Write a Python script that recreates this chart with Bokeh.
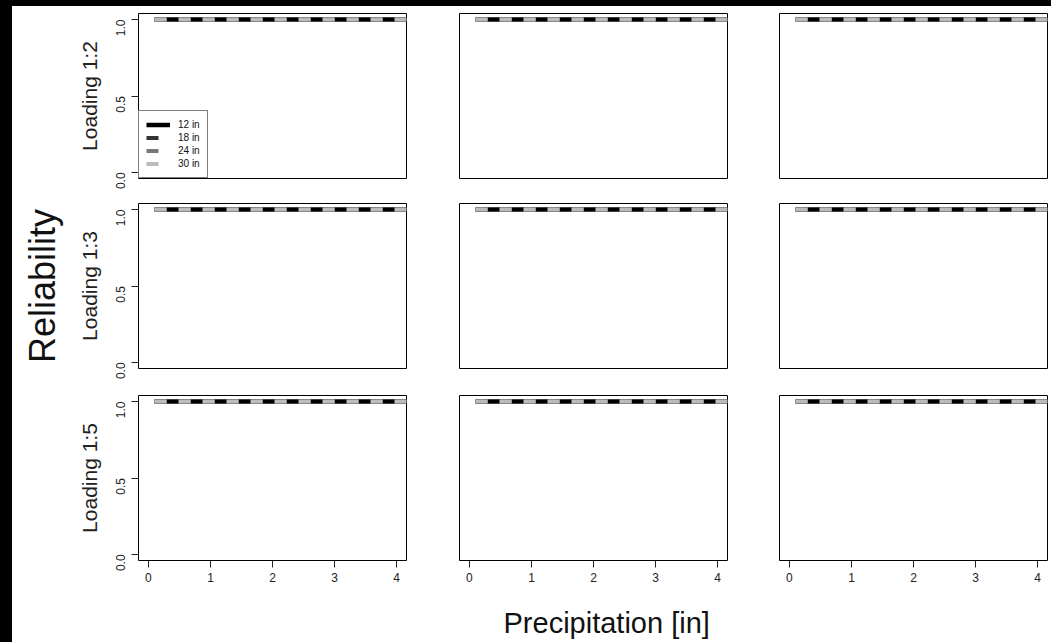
import math
from bokeh.plotting import figure
from bokeh.layouts import row, column
from bokeh.models import Range1d, FixedTicker, NumeralTickFormatter, Title, Spacer
from bokeh.embed import file_html
from bokeh.resources import INLINE

# ---------------- data ----------------
precip = [0.1, 0.5, 1.0, 1.5, 2.0, 2.5, 3.0, 3.5, 4.0, 4.5]
row_labels = ["Loading 1:2", "Loading 1:3", "Loading 1:5"]
depth_labels = ["12 in", "18 in", "24 in", "30 in"]
# every panel: all four depths sit on reliability 1.0
rel_12in = [1.0, 1.0, 1.0, 1.0, 1.0, 1.0, 1.0, 1.0, 1.0, 1.0]
rel_18in = [1.0, 1.0, 1.0, 1.0, 1.0, 1.0, 1.0, 1.0, 1.0, 1.0]
rel_24in = [1.0, 1.0, 1.0, 1.0, 1.0, 1.0, 1.0, 1.0, 1.0, 1.0]
rel_30in = [1.0, 1.0, 1.0, 1.0, 1.0, 1.0, 1.0, 1.0, 1.0, 1.0]
x_ticks = [0, 1, 2, 3, 4]
y_ticks = [0.0, 0.5, 1.0]
x_title = "Precipitation [in]"
y_title = "Reliability"

# ---------------- styles ----------------
series = [rel_12in, rel_18in, rel_24in, rel_30in]
depth_colors = ["#000000", "#333333", "#777777", "#bbbbbb"]
depth_widths = [4.5, 4, 4, 4]
depth_dashes = ["solid", "12 12", "12 12", "12 12"]
FONT = "Liberation Sans"

col_left = [126, 27, 26]
col_right = [26, 26, 4]
row_top = [7, 13, 14]
row_bottom = [12, 13, 82]


def make_panel(r, c):
    p = figure(
        frame_width=268, frame_height=165,
        output_backend="svg", toolbar_location=None,
        x_range=Range1d(-0.16, 4.16), y_range=Range1d(-0.04, 1.04),
        x_axis_location="below" if r == 2 else None,
        y_axis_location="left" if c == 0 else None,
        min_border_left=col_left[c], min_border_right=col_right[c],
        min_border_top=row_top[r], min_border_bottom=row_bottom[r],
    )
    p.grid.visible = False
    p.background_fill_color = "white"
    p.border_fill_color = "white"
    p.outline_line_color = "black"
    p.outline_line_width = 1
    p.outline_line_alpha = 1

    for ys, lab, colr, w, d in zip(series, depth_labels, depth_colors, depth_widths, depth_dashes):
        kw = dict(line_color=colr, line_width=w, line_dash=d, line_cap="butt")
        if r == 0 and c == 0:
            kw["legend_label"] = lab
        p.line(precip, ys, **kw)

    if r == 2:
        ax = p.xaxis[0]
        ax.ticker = FixedTicker(ticks=x_ticks)
        ax.axis_line_color = None
        ax.major_tick_out = 7
        ax.major_tick_in = 0
        ax.major_tick_line_color = "#222222"
        ax.major_label_text_font = FONT
        ax.major_label_text_font_size = "12px"
        ax.major_label_text_color = "#222222"
        ax.major_label_standoff = 5
    if c == 0:
        ay = p.yaxis[0]
        ay.ticker = FixedTicker(ticks=y_ticks)
        ay.formatter = NumeralTickFormatter(format="0.0")
        ay.axis_line_color = None
        ay.major_tick_out = 7
        ay.major_tick_in = 0
        ay.major_tick_line_color = "#222222"
        ay.major_label_text_font = FONT
        ay.major_label_text_font_size = "12px"
        ay.major_label_text_color = "#222222"
        ay.major_label_orientation = math.pi / 2
        ay.major_label_standoff = 11
        ay.axis_label = row_labels[r]
        ay.axis_label_text_font = FONT
        ay.axis_label_text_font_size = "21px"
        ay.axis_label_text_font_style = "normal"
        ay.axis_label_text_color = "#222222"
        ay.axis_label_standoff = 8

    if r == 0 and c == 0:
        lg = p.legend[0]
        lg.location = "bottom_left"
        lg.margin = 0
        lg.padding = 7
        lg.spacing = 0
        lg.label_height = 13
        lg.glyph_height = 13
        lg.glyph_width = 24
        lg.label_standoff = 8
        lg.label_text_font = FONT
        lg.label_text_font_size = "10px"
        lg.label_text_color = "#111111"
        lg.border_line_color = "black"
        lg.border_line_width = 1
        lg.background_fill_color = "white"
        lg.background_fill_alpha = 1

    if r == 1 and c == 0:
        p.add_layout(Title(text=y_title, text_font=FONT, text_font_size="36px",
                           text_font_style="normal", text_color="#111111",
                           vertical_align="top",
                           align="center", standoff=19), "left")
    if r == 2 and c == 1:
        p.add_layout(Title(text=x_title, text_font=FONT, text_font_size="29px",
                           text_font_style="normal", text_color="#111111",
                           align="left", offset=44, standoff=41), "below")
    return p


panels = [[make_panel(r, c) for c in range(3)] for r in range(3)]
grid = column(*[row(*panels[r]) for r in range(3)])

top_strip = Spacer(width=1051, height=6, styles={"background-color": "black"})
left_strip = Spacer(width=12, height=636, styles={"background-color": "black"})
layout = column(top_strip, row(left_strip, grid))

open("out.html", "w").write(file_html(layout, INLINE))
